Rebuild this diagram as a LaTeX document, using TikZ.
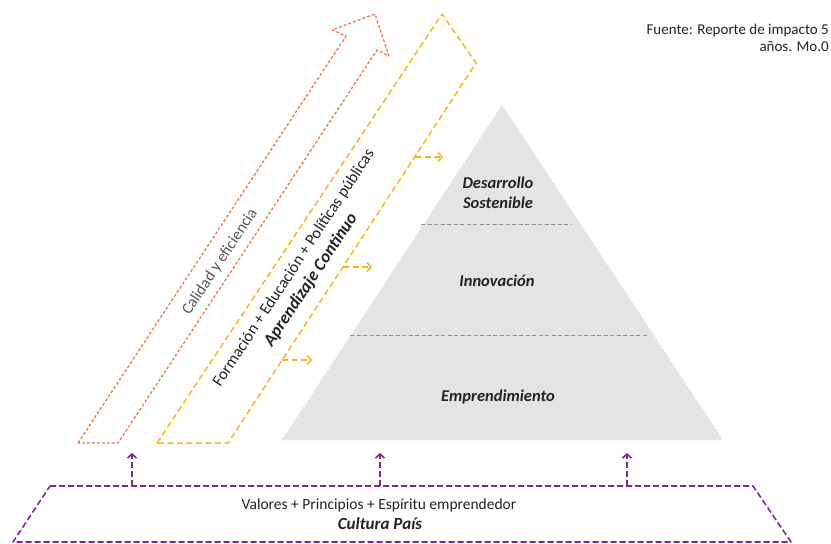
\documentclass[tikz,border=0pt]{standalone}
\usepackage{fontspec}
\setmainfont{Carlito}
\usetikzlibrary{arrows.meta}
\usetikzlibrary{decorations.pathmorphing}
\definecolor{naranja}{RGB}{229,124,84}
\definecolor{amarillo}{RGB}{244,184,22}
\definecolor{morado}{RGB}{122,42,142}
\definecolor{grispiramide}{RGB}{227,228,230}
\definecolor{grisdivisor}{RGB}{140,140,140}
\definecolor{textooscuro}{RGB}{34,34,34}
\definecolor{textogris}{RGB}{85,85,85}

\begin{document}
\begin{tikzpicture}[
        x=1pt, y=-1pt, % Coordenadas en puntos, eje y hacia abajo
        font=\fontsize{15.5}{17}\selectfont, % Fuente general
        text=textooscuro,
        % --- Estilos personalizados ---
        calidad/.style={naranja, line width=1.3pt, dash pattern=on 3pt off 2pt, line join=round},
        aprendizaje/.style={amarillo, line width=1.5pt, dash pattern=on 6pt off 3.5pt, line join=round},
        cultura/.style={morado, line width=1.6pt, dash pattern=on 6pt off 3pt, line join=round},
        flecha/.style={-{Straight Barb[length=4pt, width=9pt]}},
        nivel/.style={font=\fontsize{16.5}{20}\selectfont\bfseries\itshape, align=center},
        divisor/.style={grisdivisor, line width=0.8pt, dash pattern=on 4pt off 2.5pt},
        banda/.style={rotate=56.6, inner sep=0pt},
        piramide/.style={grispiramide, decorate, decoration={zigzag, amplitude=0.7pt, segment length=4pt}},
    ]
        \useasboundingbox (0,0) rectangle (831,544);

        % --- 1. Pirámide con sus tres niveles ---
        \coordinate (cima) at (502,105);
        \coordinate (baseizq) at (282,440);
        \coordinate (baseder) at (723,440);
        \fill[piramide] (cima) -- (baseder) -- (baseizq) -- cycle;
        \draw[divisor] (421,224) -- (572,224);
        \draw[divisor] (350,335) -- (648,335);
        \node[nivel] (desarrollo) at (498,193) {Desarrollo\\Sostenible};
        \node[nivel] (innovacion) at (497,281) {Innovación};
        \node[nivel] (emprendimiento) at (498,397) {Emprendimiento};

        % --- 2. Flecha naranja: calidad ---
        \draw[calidad] (78,443) -- (346,36) -- (332,30) -- (375,14) -- (389,56) -- (377,50) -- (118,443) -- cycle;
        \node[banda, text=textogris, font=\fontsize{16}{18}\selectfont] (calidadtxt) at (220,262) {Calidad y eficiencia};

        % --- 3. Banda amarilla: aprendizaje continuo ---
        \draw[aprendizaje] (157,443) -- (442,14) -- (476,63) -- (228,443) -- cycle;
        \node[banda, font=\fontsize{16.3}{18}\selectfont] (formacion) at (294,268) {Formación + Educación + Políticas públicas};
        \node[banda, font=\fontsize{17.5}{19}\selectfont\bfseries\itshape] (continuo) at (311,280) {Aprendizaje Continuo};

        % Flechas de la banda hacia la pirámide
        \foreach \xs/\y/\xl [count=\i] in {415/157/443, 343/267/372, 282/360/312} {
            \coordinate (sal\i) at (\xs,\y);
            \coordinate (lleg\i) at (\xl,\y);
            \draw[aprendizaje, flecha] (sal\i) -- (lleg\i);
        }

        % --- 4. Base: cultura país ---
        \draw[cultura] (50,486) -- (753,486) -- (791,542) -- (13,542) -- cycle;
        \node (valores) at (379,505) {Valores + Principios + Espíritu emprendedor};
        \node[font=\fontsize{17}{19}\selectfont\bfseries\itshape] (pais) at (380,524) {Cultura País};

        % Flechas de la base hacia arriba
        \foreach \x [count=\i] in {132, 380, 627} {
            \coordinate (base\i) at (\x,486);
            \coordinate (meta\i) at (\x,453);
            \draw[cultura, flecha] (base\i) -- (meta\i);
        }

        % --- 5. Fuente ---
        \node[anchor=north east, align=right, font=\fontsize{15}{17}\selectfont, inner sep=0pt] (fuente) at (829,24) {Fuente: Reporte de impacto 5\\años. Mo.0};

    \end{tikzpicture}
\end{document}
